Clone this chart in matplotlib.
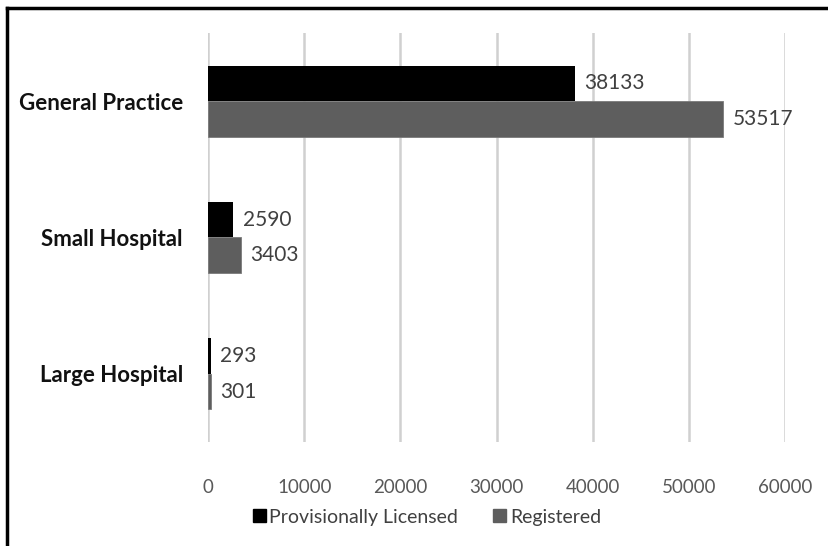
import matplotlib
matplotlib.use("Agg")
import matplotlib.pyplot as plt
import numpy as np
from matplotlib.lines import Line2D
from matplotlib.patches import Patch

plt.rcParams['font.family'] = ['Lato', 'DejaVu Sans']

categories = ["General Practice", "Small Hospital", "Large Hospital"]
provisional = [38133, 2590, 293]
registered = [53517, 3403, 301]
series_names = ["Provisionally Licensed", "Registered"]
xticks = [0, 10000, 20000, 30000, 40000, 50000, 60000]

col_prov = '#000000'
col_reg = '#5e5e5e'

fig = plt.figure(figsize=(8.29, 5.46), dpi=100)
ax = fig.add_axes([0.2509, 0.1905, 0.9475 - 0.2509, 0.9396 - 0.1905])

y = np.arange(len(categories))
h = 0.26
b1 = ax.barh(y - h / 2, provisional, height=h, color=col_prov, zorder=3)
b2 = ax.barh(y + h / 2, registered, height=h, color=col_reg,
             edgecolor='#7a7a7a', linewidth=0.6, zorder=3)

for bars, vals in ((b1, provisional), (b2, registered)):
    for r, v in zip(bars, vals):
        ax.text(r.get_width() + 1000, r.get_y() + r.get_height() / 2, str(v),
                va='center', ha='left', fontsize=15, color='#404040')

ax.set_xlim(0, 60000)
ax.set_ylim(2.5, -0.5)
ax.set_xticks(xticks)
ax.set_xticklabels([str(t) for t in xticks], fontsize=13.5, color='#595959')
ax.set_yticks(y)
ax.set_yticklabels(categories, fontsize=16, fontweight='bold', color='#111111')
ax.tick_params(axis='both', length=0)
ax.tick_params(axis='x', pad=27)
ax.tick_params(axis='y', pad=18)
for s in ax.spines.values():
    s.set_visible(False)
ax.grid(axis='x', color='#d0d0d0', linewidth=1.8, zorder=0)
ax.set_axisbelow(True)

handles = [Patch(color=col_prov), Patch(color=col_reg)]
fig.legend(handles, series_names, loc='center', bbox_to_anchor=(0.515, 0.053),
           ncol=2, frameon=False, fontsize=14, handlelength=0.65, handleheight=0.65,
           handletextpad=0.2, columnspacing=1.8, labelcolor='#404040')

# picture frame (left and top edges)
fig.add_artist(Line2D([0.0085, 0.0085], [0, 0.986], color='black', lw=2.5,
                      transform=fig.transFigure))
fig.add_artist(Line2D([0.0085, 1.0], [0.986, 0.986], color='black', lw=2.5,
                      transform=fig.transFigure))

fig.savefig("out.png", dpi=100)
